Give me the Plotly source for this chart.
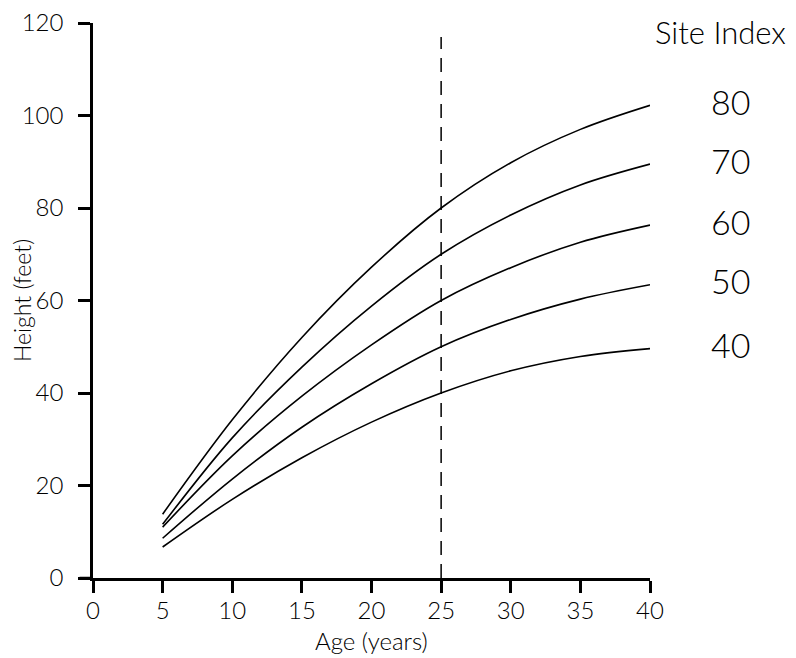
import plotly.graph_objects as go

# ---- data ----
age = [5, 10, 15, 20, 25, 30, 35, 40]
site_index = [80, 70, 60, 50, 40]
height_si80 = [13.8, 34.2, 52.0, 67.2, 80.0, 89.8, 97.0, 102.2]
height_si70 = [11.6, 30.3, 45.6, 58.8, 70.0, 78.5, 85.0, 89.5]
height_si60 = [11.0, 26.4, 39.3, 50.4, 60.0, 67.1, 72.6, 76.3]
height_si50 = [8.6, 21.4, 32.6, 42.0, 50.0, 55.9, 60.3, 63.4]
height_si40 = [6.7, 17.0, 26.0, 33.7, 40.0, 44.8, 47.9, 49.6]
base_age = 25
x_ticks = [0, 5, 10, 15, 20, 25, 30, 35, 40]
y_ticks = [0, 20, 40, 60, 80, 100, 120]

series = [height_si80, height_si70, height_si60, height_si50, height_si40]

FONT = "Lato"
W = 300
INK = "#000000"

def f(size):
    return dict(family=FONT, size=size, color=INK, weight=W)

fig = go.Figure()
for si, h in zip(site_index, series):
    fig.add_trace(go.Scatter(
        x=age, y=h, mode="lines", name=str(si),
        line=dict(color=INK, width=1.6, shape="spline", smoothing=1.0),
        showlegend=False, hoverinfo="skip"))

# base-age reference line
fig.add_trace(go.Scatter(
    x=[base_age, base_age], y=[0, 117], mode="lines",
    line=dict(color=INK, width=1.5, dash="14px,9px"),
    showlegend=False, hoverinfo="skip"))

# x-axis line stub extending left of the y axis
fig.add_shape(type="line", xref="paper", yref="y", x0=-0.024, x1=0, y0=0, y1=0,
              line=dict(color=INK, width=2.5))

# site index labels
fig.add_annotation(text="Site Index", xref="paper", yref="paper",
                   x=1.127, y=0.984, xanchor="center", yanchor="middle",
                   showarrow=False, font=f(31))
for si, h in zip(site_index, series):
    fig.add_annotation(text=str(si), xref="paper", yref="y",
                       x=1.145, y=h[-1], yshift=4, xanchor="center", yanchor="middle",
                       showarrow=False, font=f(34))

# x-axis title
fig.add_annotation(text="Age (years)", xref="paper", yref="paper",
                   x=0.5, y=0, yshift=-62, xanchor="center", yanchor="middle",
                   showarrow=False, font=f(24))

fig.update_layout(
    width=780, height=650,
    margin=dict(l=85, r=138, t=15, b=80),
    paper_bgcolor="white", plot_bgcolor="white",
    font=f(20),
    xaxis=dict(range=[0, 40], tickvals=x_ticks, showgrid=False, zeroline=False,
               showline=True, linecolor=INK, linewidth=2.5, automargin=False,
               ticks="outside", ticklen=12, tickwidth=2.5, tickcolor=INK,
               tickfont=f(24), ticklabeloverflow="allow", ticklabelstandoff=-3),
    yaxis=dict(range=[0, 120], tickvals=y_ticks, showgrid=False, zeroline=False,
               showline=True, linecolor=INK, linewidth=2.5, automargin=False,
               ticks="outside", ticklen=12, tickwidth=2.5, tickcolor=INK,
               tickfont=f(24), ticklabelstandoff=10, ticklabeloverflow="allow",
               title=dict(text="Height (feet)", font=f(23), standoff=4)),
)

fig.write_html("out.html")
